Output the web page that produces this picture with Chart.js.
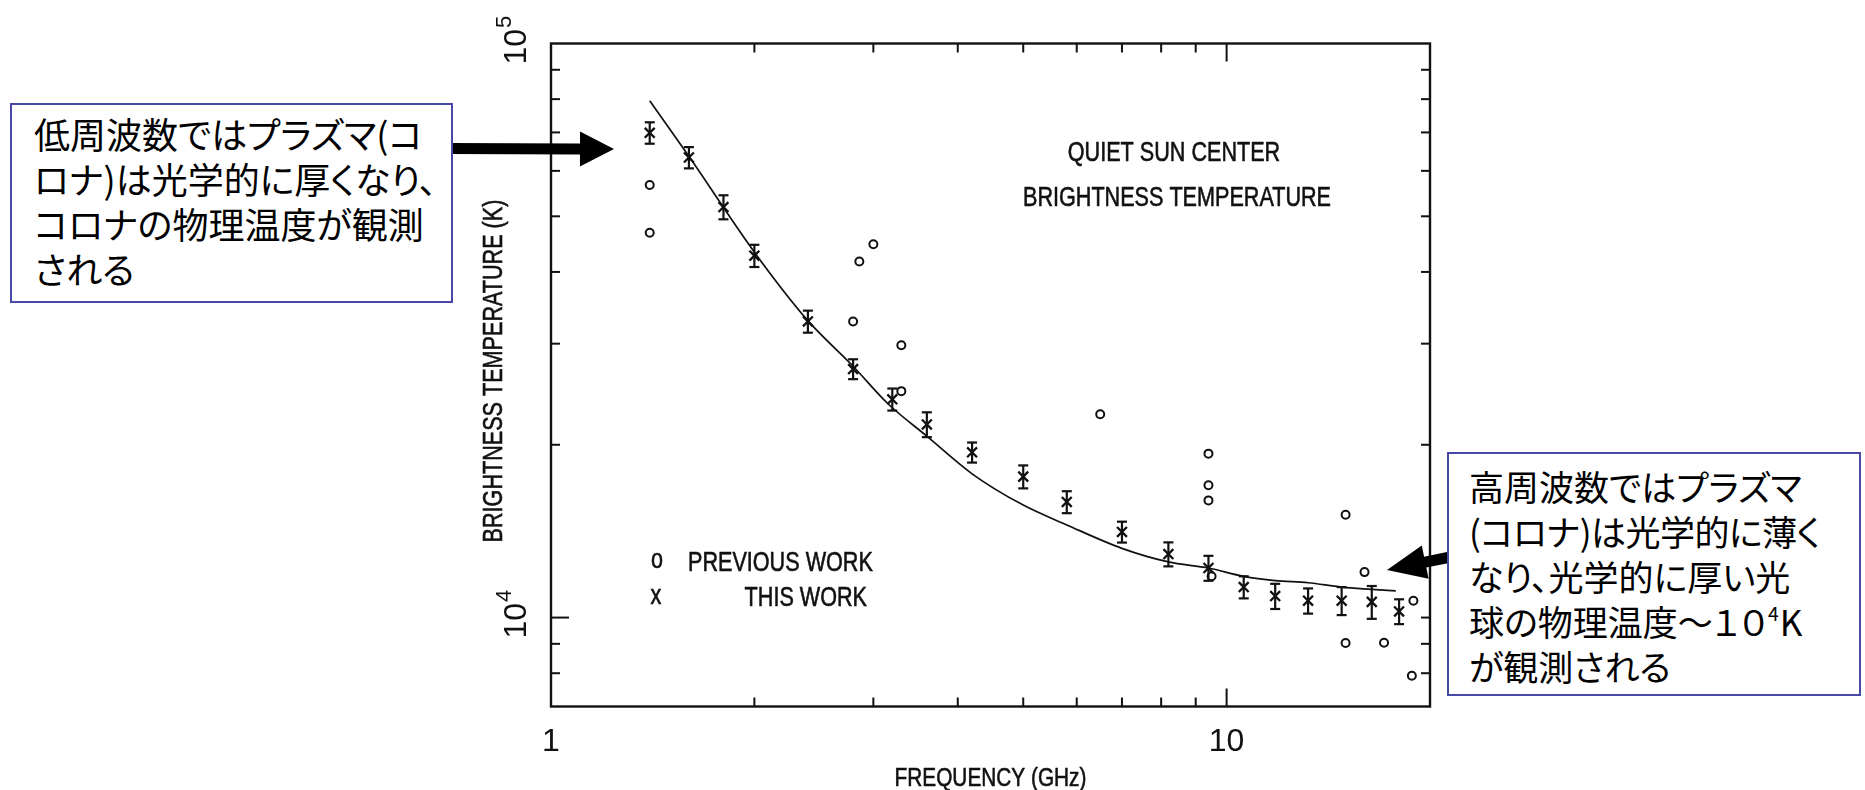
<!DOCTYPE html>
<html lang="ja">
<head>
<meta charset="utf-8">
<title>Quiet Sun Center - Brightness Temperature</title>
<script src="https://cdn.jsdelivr.net/npm/chart.js@4.4.1/dist/chart.umd.min.js"></script>
<style>
  html, body { margin: 0; padding: 0; background: #fff; }
  #wrap { position: relative; width: 1865px; height: 790px; overflow: hidden; }
  #chart { position: absolute; left: 0; top: 0; }
  .note {
    position: absolute; box-sizing: border-box; border: 2px solid #4848a8; background: #fff;
    font-family: "Noto Sans CJK JP", sans-serif; color: #000; white-space: nowrap;
    font-feature-settings: "palt";
  }
  #noteLow { left: 10px; top: 103px; width: 443px; height: 200px; padding: 6px 0 0 22px; font-size: 36px; line-height: 45px; }
  #noteHigh { left: 1447px; top: 452px; width: 414px; height: 244px; padding: 9px 0 0 20px; font-size: 35px; line-height: 45px; }
  #noteHigh .l2 { letter-spacing: -0.5px; }
  #noteHigh .k { letter-spacing: 1px; }
  .note sup { font-size: 0.55em; line-height: 0; vertical-align: 0.8em; }
</style>
</head>
<body>
<div id="wrap">
  <canvas id="chart" width="1865" height="790"></canvas>
  <div class="note" id="noteLow">低周波数ではプラズマ(コ<br>ロナ)は光学的に厚くなり、<br>コロナの物理温度が観測<br>される</div>
  <div class="note" id="noteHigh">高周波数ではプラズマ<br><span class="l2">(コロナ)は光学的に薄く</span><br>なり、光学的に厚い光<br>球の物理温度～<span class="k">１０<sup>4</sup>K</span><br>が観測される</div>
</div>
<script>
// Mesures de ce travail (GHz, K) avec barres d'erreur
const freqThisWork = [1.4, 1.6, 1.8, 2.0, 2.4, 2.8, 3.2, 3.6, 4.2, 5.0, 5.8, 7.0, 8.2, 9.4, 10.6, 11.8, 13.2, 14.8, 16.4, 18.0];
const tbThisWork = [69900, 63300, 51900, 42700, 32800, 27100, 24000, 21700, 19400, 17600, 15900, 14100, 12900, 12200, 11300, 10900, 10700, 10700, 10650, 10250];
const tbErrThisWork = [3000, 2700, 2500, 1900, 1450, 1080, 1060, 1080, 780, 810, 700, 590, 620, 610, 500, 550, 540, 600, 700, 510];

// Travaux précédents
const freqPrevious = [1.4, 1.4, 2.8, 2.86, 3.0, 3.3, 3.3, 6.5, 9.4, 9.4, 9.4, 9.5, 15.0, 15.0, 16.0, 17.1, 18.8, 18.9];
const tbPrevious = [56700, 46800, 32800, 41700, 44700, 29800, 24800, 22600, 19300, 17000, 16000, 11800, 15100, 9030, 12000, 9040, 7920, 10700];

// Courbe du modèle
const freqModel = [1.4, 1.6, 2.0, 2.4, 2.8, 3.15, 3.6, 4.2, 5.0, 5.8, 7.0, 8.2, 9.4, 10.6, 11.8, 13.2, 14.8, 16.4, 17.8];
const tbModel = [79500, 63600, 43300, 32900, 27400, 23600, 20700, 17800, 15700, 14500, 13200, 12500, 12200, 11800, 11600, 11500, 11300, 11200, 11130];

// Graduations
const xMinorTicks = [2, 3, 4, 5, 6, 7, 8, 9];
const xMajorTicks = [10];
const xTickValues = [1, 10];
const xTickLabels = ['1', '10'];
const yMinorTicks = [8000, 9000, 20000, 30000, 40000, 50000, 60000, 70000, 80000, 90000];
const yMajorTicks = [10000];
const yTickValues = [10000, 100000];
const yTickExponents = ['4', '5'];

const ink = '#111';
const sansFont = '"Liberation Sans", Arial, sans-serif';

function toPoints(xs, ys) {
    return xs.map((x, i) => ({ x: x, y: ys[i] }));
}

// texte condensé, comme le lettrage du traceur
function narrowText(ctx, text, x, y, align, size, rotate) {
    ctx.save();
    ctx.translate(x, y);
    if (rotate) ctx.rotate(-Math.PI / 2);
    ctx.scale(0.8, 1);
    ctx.font = size + 'px ' + sansFont;
    ctx.textAlign = align;
    ctx.textBaseline = 'alphabetic';
    ctx.fillStyle = ink;
    ctx.strokeStyle = ink;
    ctx.lineWidth = 0.6;
    ctx.fillText(text, 0, 0);
    ctx.strokeText(text, 0, 0);
    ctx.restore();
}

function line(ctx, x1, y1, x2, y2) {
    ctx.beginPath();
    ctx.moveTo(x1, y1);
    ctx.lineTo(x2, y2);
    ctx.stroke();
}

function arrow(ctx, x1, y1, x2, y2, shaft, headLen, headW) {
    const dx = x2 - x1, dy = y2 - y1;
    const len = Math.hypot(dx, dy);
    const ux = dx / len, uy = dy / len;
    const nx = -uy, ny = ux;
    const bx = x2 - ux * headLen, by = y2 - uy * headLen;
    ctx.save();
    ctx.fillStyle = '#000';
    ctx.beginPath();
    ctx.moveTo(x1 + nx * shaft / 2, y1 + ny * shaft / 2);
    ctx.lineTo(bx + nx * shaft / 2, by + ny * shaft / 2);
    ctx.lineTo(bx + nx * headW / 2, by + ny * headW / 2);
    ctx.lineTo(x2, y2);
    ctx.lineTo(bx - nx * headW / 2, by - ny * headW / 2);
    ctx.lineTo(bx - nx * shaft / 2, by - ny * shaft / 2);
    ctx.lineTo(x1 - nx * shaft / 2, y1 - ny * shaft / 2);
    ctx.closePath();
    ctx.fill();
    ctx.restore();
}

// Cadre, graduations, barres d'erreur et textes
const figurePlugin = {
    id: 'figure',
    afterDatasetsDraw(chart) {
        const ctx = chart.ctx;
        const ca = chart.chartArea;
        const xs = chart.scales.x;
        const ys = chart.scales.y;

        ctx.save();
        ctx.strokeStyle = ink;
        ctx.lineWidth = 2.2;

        // barres d'erreur
        freqThisWork.forEach((f, i) => {
            const px = xs.getPixelForValue(f);
            const top = ys.getPixelForValue(tbThisWork[i] + tbErrThisWork[i]);
            const bot = ys.getPixelForValue(tbThisWork[i] - tbErrThisWork[i]);
            line(ctx, px, top, px, bot);
            line(ctx, px - 5, top, px + 5, top);
            line(ctx, px - 5, bot, px + 5, bot);
        });

        // cadre
        ctx.lineWidth = 2.4;
        ctx.strokeRect(ca.left, ca.top, ca.width, ca.height);

        // graduations vers l'intérieur
        ctx.lineWidth = 2;
        xMinorTicks.forEach(v => {
            const px = xs.getPixelForValue(v);
            line(ctx, px, ca.bottom, px, ca.bottom - 9);
            line(ctx, px, ca.top, px, ca.top + 9);
        });
        xMajorTicks.forEach(v => {
            const px = xs.getPixelForValue(v);
            line(ctx, px, ca.bottom, px, ca.bottom - 18);
            line(ctx, px, ca.top, px, ca.top + 18);
        });
        yMinorTicks.forEach(v => {
            const py = ys.getPixelForValue(v);
            line(ctx, ca.left, py, ca.left + 9, py);
            line(ctx, ca.right, py, ca.right - 9, py);
        });
        yMajorTicks.forEach(v => {
            const py = ys.getPixelForValue(v);
            line(ctx, ca.left, py, ca.left + 18, py);
            line(ctx, ca.right, py, ca.right - 9, py);
        });

        // étiquettes de l'axe x
        ctx.fillStyle = ink;
        ctx.font = '32px ' + sansFont;
        ctx.textAlign = 'center';
        ctx.textBaseline = 'alphabetic';
        xTickValues.forEach((v, i) => {
            ctx.fillText(xTickLabels[i], xs.getPixelForValue(v), ca.bottom + 44);
        });

        // étiquettes de l'axe y : 10 puissance n, tournées
        yTickValues.forEach((v, i) => {
            const py = ys.getPixelForValue(v);
            ctx.save();
            ctx.translate(ca.left - 25, py + 21);
            ctx.rotate(-Math.PI / 2);
            ctx.textAlign = 'left';
            ctx.font = '32px ' + sansFont;
            ctx.fillText('10', 0, 0);
            const w = ctx.measureText('10').width;
            ctx.font = '22px ' + sansFont;
            ctx.fillText(yTickExponents[i], w + 1, -15);
            ctx.restore();
        });

        // titres des axes
        narrowText(ctx, 'FREQUENCY (GHz)', (ca.left + ca.right) / 2, ca.bottom + 79, 'center', 26);
        narrowText(ctx, 'BRIGHTNESS TEMPERATURE (K)', ca.left - 49, (ca.top + ca.bottom) / 2 - 4, 'center', 27, true);

        // textes dans le graphique
        narrowText(ctx, 'QUIET SUN CENTER', ca.left + 623, ca.top + 117, 'center', 27);
        narrowText(ctx, 'BRIGHTNESS TEMPERATURE', ca.left + 626, ca.top + 162, 'center', 27);

        // légende
        narrowText(ctx, 'o', ca.left + 106, ca.top + 524, 'center', 27);
        narrowText(ctx, 'PREVIOUS WORK', ca.left + 137, ca.top + 527, 'left', 27);
        narrowText(ctx, 'x', ca.left + 105, ca.top + 560, 'center', 27);
        narrowText(ctx, 'THIS WORK', ca.left + 316, ca.top + 562, 'right', 27);

        // flèches des encadrés
        arrow(ctx, 450, 148.5, 614, 149, 11, 34, 35);
        arrow(ctx, 1448, 557.5, 1387, 570, 11, 39, 34);

        ctx.restore();
    }
};

const chart = new Chart(document.getElementById('chart'), {
    type: 'scatter',
    data: {
        datasets: [
            {
                label: 'MODEL',
                data: toPoints(freqModel, tbModel),
                showLine: true,
                borderColor: ink,
                borderWidth: 1.7,
                pointRadius: 0,
                cubicInterpolationMode: 'monotone',
                fill: false
            },
            {
                label: 'THIS WORK',
                data: toPoints(freqThisWork, tbThisWork),
                pointStyle: 'crossRot',
                pointRadius: 7,
                borderColor: ink,
                borderWidth: 2.3
            },
            {
                label: 'PREVIOUS WORK',
                data: toPoints(freqPrevious, tbPrevious),
                pointStyle: 'circle',
                pointRadius: 4,
                borderColor: ink,
                backgroundColor: '#fff',
                borderWidth: 2
            }
        ]
    },
    options: {
        responsive: false,
        animation: false,
        devicePixelRatio: 1,
        layout: {
            padding: { left: 551, right: 435, top: 43.5, bottom: 83.5 }
        },
        scales: {
            x: { type: 'logarithmic', min: 1, max: 20, display: false },
            y: { type: 'logarithmic', min: 7000, max: 100000, display: false }
        },
        plugins: {
            legend: { display: false },
            tooltip: { enabled: false }
        }
    },
    plugins: [figurePlugin]
});
</script>
</body>
</html>
